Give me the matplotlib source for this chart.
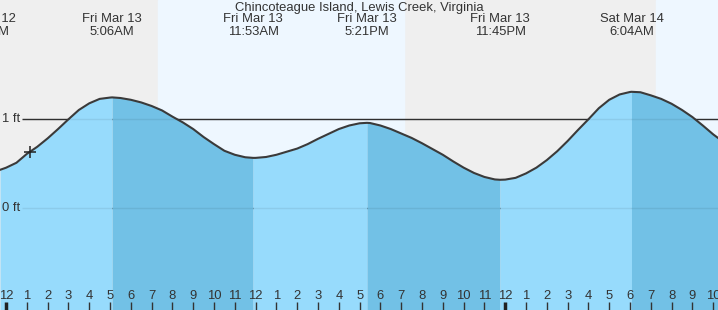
import matplotlib.pyplot as plt
import matplotlib.transforms as mtransforms
import numpy as np

plt.rcParams['font.family'] = ['Liberation Sans', 'DejaVu Sans']

title = 'Chincoteague Island, Lewis Creek, Virginia'

# hours since Fri Mar 13 00:00, tide height in ft (read every half hour + extremes)
hours = [-0.29, 0, 0.5, 1, 1.5, 2, 2.5, 3, 3.5, 4, 4.5, 5, 5.1, 5.5, 6, 6.5, 7, 7.5, 8, 8.5,
         9, 9.5, 10, 10.5, 11, 11.5, 11.88, 12, 12.5, 13, 13.5, 14, 14.5, 15, 15.5, 16, 16.5,
         17, 17.35, 17.5, 18, 18.5, 19, 19.5, 20, 20.5, 21, 21.5, 22, 22.5, 23, 23.5, 23.75,
         24, 24.5, 25, 25.5, 26, 26.5, 27, 27.5, 28, 28.5, 29, 29.5, 30, 30.07, 30.5, 31,
         31.5, 32, 32.5, 33, 33.5, 34, 34.23]
height = [0.43, 0.454, 0.51, 0.61, 0.69, 0.785, 0.89, 1.0, 1.105, 1.18, 1.23, 1.245, 1.247,
          1.24, 1.22, 1.19, 1.15, 1.10, 1.03, 0.965, 0.89, 0.80, 0.72, 0.645, 0.60, 0.572,
          0.565, 0.565, 0.575, 0.60, 0.635, 0.67, 0.72, 0.78, 0.835, 0.89, 0.93, 0.955, 0.96,
          0.958, 0.93, 0.89, 0.84, 0.79, 0.73, 0.665, 0.60, 0.525, 0.455, 0.395, 0.35, 0.322,
          0.318, 0.32, 0.34, 0.39, 0.455, 0.54, 0.64, 0.755, 0.88, 1.0, 1.125, 1.22, 1.28,
          1.308, 1.31, 1.305, 1.27, 1.23, 1.175, 1.105, 1.025, 0.93, 0.83, 0.79]

# high / low tide events
event_hours = [-1.12, 5.1, 11.88, 17.35, 23.75, 30.07]
event_day = ['Thu Mar 12', 'Fri Mar 13', 'Fri Mar 13', 'Fri Mar 13', 'Fri Mar 13', 'Sat Mar 14']
event_time = ['10:53PM', '5:06AM', '11:53AM', '5:21PM', '11:45PM', '6:04AM']

# daylight spans
day_spans = [(7.31, 19.13), (31.25, 34.23)]

now_hour, now_height = 1.15, 0.63

tick_hours = list(range(0, 35))
tick_labels = [str((h - 1) % 12 + 1) for h in tick_hours]

x0, x1 = -0.29, 34.23
y0, y1 = -1.15, 2.345
fs = 9.4

fig = plt.figure(figsize=(7.18, 3.10), dpi=100)
ax = fig.add_axes([0, 0, 1, 1])
ax.set_xlim(x0, x1)
ax.set_ylim(y0, y1)
ax.axis('off')
ax.add_patch(plt.Rectangle((x0, y0), x1 - x0, y1 - y0, color='#efefef', zorder=0))
for a, b in day_spans:
    ax.axvspan(a, b, color='#eef7ff', zorder=0.5)

t = np.array(hours)
h = np.array(height)
bounds = [x0] + event_hours[1:] + [x1]
for i in range(len(bounds) - 1):
    m = (t >= bounds[i]) & (t <= bounds[i + 1])
    col = '#97dbfc' if i % 2 == 0 else '#72c1e6'
    ax.fill_between(t[m], y0, h[m], color=col, lw=0, zorder=2)

for lvl, lab in [(1, '1 ft'), (0, '0 ft')]:
    ax.hlines(lvl, 0.77, x1, color='#333333', lw=1, zorder=1)
    ax.hlines(lvl, 0.77, x1, color='#000000', lw=1, alpha=0.07, zorder=3)
    ax.text(-0.19, lvl, lab, ha='left', va='center', fontsize=fs, color='#333333')

ax.plot(t, h, color='#3a3a3a', lw=1.5, zorder=4, solid_joinstyle='round')
ax.plot([now_hour], [now_height], marker='+', color='#222222', ms=8, mew=1.1, zorder=5)

trans = mtransforms.blended_transform_factory(ax.transData, ax.transAxes)
ax.text(0.5, 1 - 8 / 310, title, transform=ax.transAxes, ha='center', va='center',
        fontsize=fs, color='#333333')
for eh, d, tm in zip(event_hours, event_day, event_time):
    ax.text(eh, 1 - 19 / 310, d, transform=trans, ha='center', va='center', fontsize=fs, color='#333333')
    ax.text(eh, 1 - 32 / 310, tm, transform=trans, ha='center', va='center', fontsize=fs, color='#333333')

for th, tl in zip(tick_hours, tick_labels):
    ax.text(th, 14 / 310, tl, transform=trans, ha='center', va='center', fontsize=fs, color='#333333')
    wide = th % 24 == 0
    ax.vlines(th, 0, 8 / 310, transform=trans, color='#222222' if wide else '#333333',
              lw=2.5 if wide else 1, zorder=6)

fig.savefig('out.png', dpi=100)
